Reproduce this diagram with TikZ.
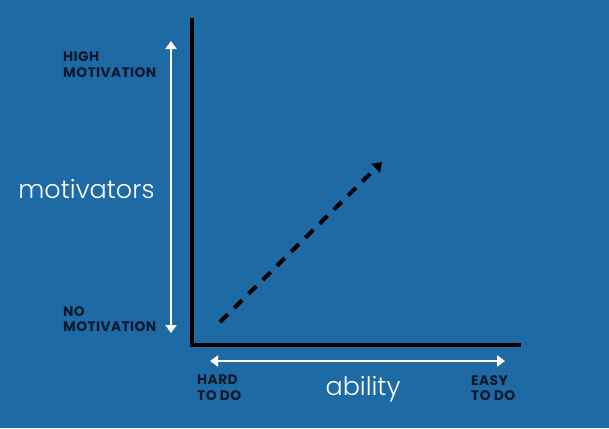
\documentclass[tikz,border=0pt]{standalone}
\usepackage{fontspec}
\setmainfont{Poppins}
\newfontfamily\lightfont{Poppins Light}
\usetikzlibrary{arrows.meta}
\definecolor{bg}{RGB}{30,106,165}
\definecolor{navy}{RGB}{10,24,44}
\begin{document}
\begin{tikzpicture}[x=1pt,y=-1pt,
  axis/.style={line width=4pt,black},
  whitearrow/.style={line width=2.6pt,white,{Triangle[width=11pt,length=8pt]}-{Triangle[width=11pt,length=8pt]}},
  lbl/.style={text=navy,font=\fontsize{13.8}{15.5}\selectfont\bfseries\addfontfeatures{LetterSpace=3},align=left,inner sep=0pt},
  big/.style={text=white,font=\fontsize{25.5}{30}\selectfont\lightfont,inner sep=0pt}]
\fill[bg] (0,0) rectangle (609,428);
\useasboundingbox (0,0) rectangle (609,428);
\coordinate (top) at (192,18);
\coordinate (origin) at (192,345);
\coordinate (right) at (521,345);
\draw[axis] (top) -- (origin) -- (right);
\coordinate (vt) at (171,41);
\coordinate (vb) at (171,333);
\draw[whitearrow] (vb) -- (vt);
\coordinate (hl) at (210,361);
\coordinate (hr) at (505,361);
\draw[whitearrow] (hl) -- (hr);
\coordinate (ds) at (220,322);
\coordinate (de) at (382,162);
\draw[line width=4pt,black,dash pattern=on 11pt off 9pt,-{Triangle[width=12pt,length=9pt]}] (ds) -- (de);
\node[lbl,anchor=north west] (high) at (63,52) {HIGH\\MOTIVATION};
\node[lbl,anchor=north west] (no) at (63,306) {NO\\MOTIVATION};
\node[big,anchor=base] (mot) at (86.5,198) {motivators};
\node[lbl,anchor=north west] (hard) at (197,375) {HARD\\TO DO};
\node[lbl,anchor=north west] (easy) at (471,375) {EASY\\TO DO};
\node[big,anchor=base] (abil) at (363,395) {ability};
\end{tikzpicture}
\end{document}
